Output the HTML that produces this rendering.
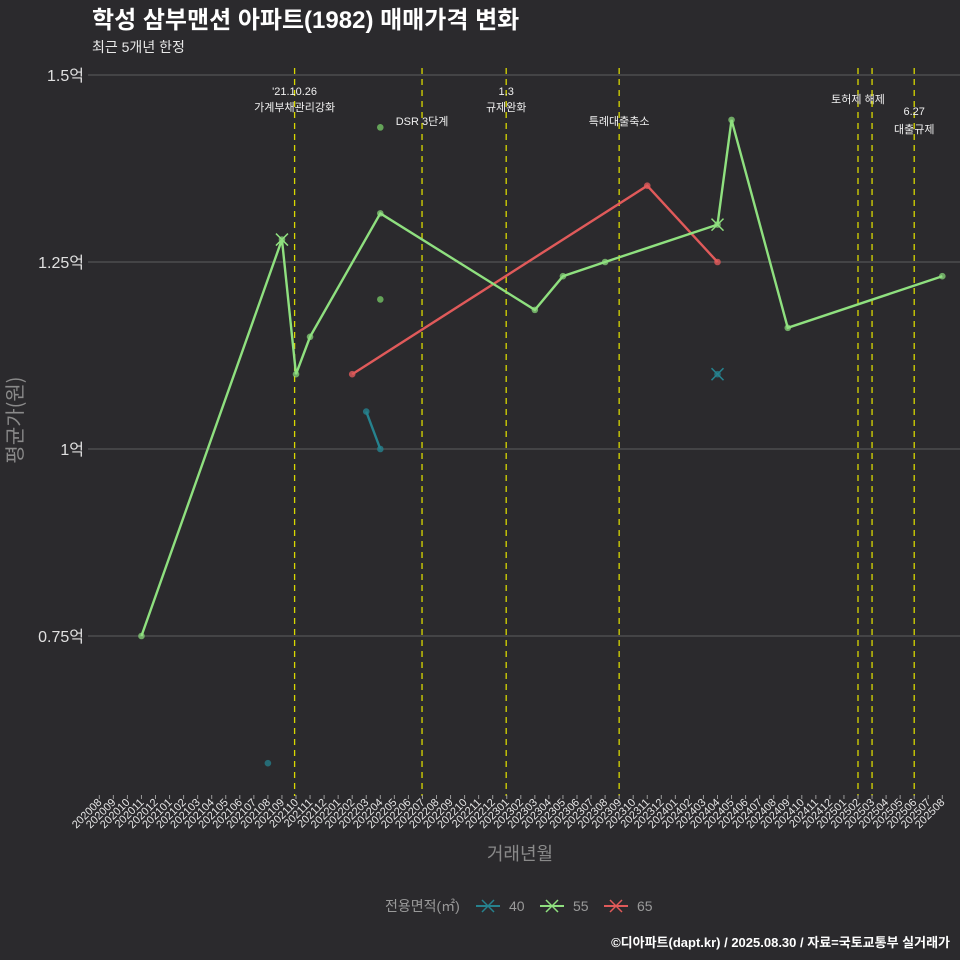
<!DOCTYPE html>
<html><head><meta charset="utf-8"><style>
html,body{margin:0;padding:0;background:#2b2a2d;}
svg{display:block;font-family:"Liberation Sans","Noto Sans CJK KR",sans-serif;}
</style></head><body>
<svg id="c" width="960" height="960" viewBox="0 0 960 960">
<rect width="960" height="960" fill="#2b2a2d"/>
<text x="92" y="28" font-size="24" font-weight="bold" fill="#ffffff">학성 삼부맨션 아파트(1982) 매매가격 변화</text>
<text x="92" y="52" font-size="14" fill="#e8e8e8">최근 5개년 한정</text>
<text transform="translate(22,420) rotate(-90)" text-anchor="middle" font-size="20" fill="#8a8a8a" font-family="Noto Sans CJK KR, sans-serif">평균가(원)</text>
<text x="520" y="860" text-anchor="middle" font-size="18" fill="#8a8a8a">거래년월</text>
<g id="grid"></g><g id="vlines"></g><g id="series"></g><g id="xaxis"></g>
<g>
<text x="385" y="911" font-size="14" fill="#9a9a9a">전용면적(㎡)</text>
<g><line x1="476" y1="906" x2="500" y2="906" stroke="#26828e" stroke-width="2"/><path d="M482 900l12 12M494 900l-12 12" stroke="#26828e" stroke-width="1.5"/><text x="509" y="911" font-size="14" fill="#9a9a9a">40</text></g>
<g><line x1="540" y1="906" x2="564" y2="906" stroke="#8fe07f" stroke-width="2"/><path d="M546 900l12 12M558 900l-12 12" stroke="#8fe07f" stroke-width="1.5"/><text x="573" y="911" font-size="14" fill="#9a9a9a">55</text></g>
<g><line x1="604" y1="906" x2="628" y2="906" stroke="#e05a5a" stroke-width="2"/><path d="M610 900l12 12M622 900l-12 12" stroke="#e05a5a" stroke-width="1.5"/><text x="637" y="911" font-size="14" fill="#9a9a9a">65</text></g>
</g>
<text x="950" y="947" text-anchor="end" font-size="13" font-weight="bold" fill="#ffffff">©디아파트(dapt.kr) / 2025.08.30 / 자료=국토교통부 실거래가</text>
</svg>
<script>
const yTicks=[0.75,1,1.25,1.5];
const yTickLabels=["0.75억","1억","1.25억","1.5억"];
const s55Months=[3,13,14,15,20,31,33,36,44,45,49,60];
const s55Values=[0.75,1.28,1.10,1.15,1.315,1.186,1.231,1.25,1.30,1.44,1.162,1.231];
const s55Cross=[false,true,false,false,false,false,false,false,true,false,false,false];
const s55ExtraMonths=[20,20];
const s55ExtraValues=[1.43,1.20];
const s65Months=[18,39,44];
const s65Values=[1.10,1.352,1.25];
const s40Months=[19,20];
const s40Values=[1.05,1.0];
const s40ExtraMonths=[12,44];
const s40ExtraValues=[0.58,1.10];
const s40ExtraCross=[false,true];
const eventMonths=[13.9,22.97,28.96,37,54,55,58];
const eventLabels=[["'21.10.26","가계부채관리강화"],["DSR 3단계"],["1.3","규제완화"],["특례대출축소"],["토허제 해제"],[],["6.27","대출규제"]];
const eventLabelY=[[91,107],[121],[91,107],[121],[99],[],[111,129]];

const NS="http://www.w3.org/2000/svg";
const X=i=>99.3+i*14.05;
const Y=v=>75+(1.5-v)*748;
function el(tag,attrs,parent){const e=document.createElementNS(NS,tag);for(const k in attrs)e.setAttribute(k,attrs[k]);parent.appendChild(e);return e;}
const grid=document.getElementById('grid'),vl=document.getElementById('vlines'),sr=document.getElementById('series'),xa=document.getElementById('xaxis');
yTicks.forEach((v,k)=>{
 const l=el('line',{x1:88,x2:960,y1:Y(v),y2:Y(v),stroke:'#5e5e5e','stroke-width':1},grid);
 
 
 const t=el('text',{x:84,y:Y(v)+6,'text-anchor':'end','font-size':16,fill:'#e0e0e0'},grid);
 t.textContent=yTickLabels[k];
 
 
});
for(let i=0;i<=60;i++){
 const yr=2020+Math.floor((7+i)/12),mo=((7+i)%12)+1;
 const lab=''+yr+(mo<10?'0':'')+mo;
 const tk=el('line',{x1:X(i),x2:X(i),y1:795,y2:799,stroke:'#9a9a9a'},xa);
 
 
 const t=el('text',{transform:`translate(${X(i)+3},${803}) rotate(-45)`,'text-anchor':'end','font-size':11,fill:'#e6e6e6'},xa);
 t.textContent=lab;
 
 
}
eventMonths.forEach((m,k)=>{
 const l=el('line',{x1:X(m),x2:X(m),y1:68,y2:796,stroke:'#d8d800','stroke-width':1.3,'stroke-dasharray':'6,5'},vl);
 
 
 eventLabels[k].forEach((s,j)=>{
  const t=el('text',{x:X(m),y:eventLabelY[k][j]+4,'text-anchor':'middle','font-size':11,fill:'#f0f0f0'},vl);
  t.textContent=s;
  
  
 });
});
function line(ms,vs,col,name){
 const p=el('polyline',{points:ms.map((m,k)=>X(m)+','+Y(vs[k])).join(' '),fill:'none',stroke:col,'stroke-width':2.4},sr);
 
 
}
function pts(ms,vs,col,cross,name,op){
 ms.forEach((m,k)=>{
  const c=el('circle',{cx:X(m),cy:Y(vs[k]),r:3.3,fill:col,opacity:op},sr);
  
  
  if(cross&&cross[k]){
   const x=X(m),y=Y(vs[k]);
   const cr=el('path',{d:`M${x-6} ${y-6}l12 12M${x+6} ${y-6}l-12 12`,stroke:col,'stroke-width':1.5},sr);
   
   
  }
 });
}
line(s40Months,s40Values,'#26828e','line-40');
pts(s40Months,s40Values,'#26828e',null,'point-40',0.8);
pts(s40ExtraMonths,s40ExtraValues,'#26828e',s40ExtraCross,'point-40-extra',0.75);
line(s65Months,s65Values,'#e05a5a','line-65');
pts(s65Months,s65Values,'#e05a5a',null,'point-65',0.8);
line(s55Months,s55Values,'#8fe07f','line-55');
pts(s55Months,s55Values,'#8fe07f',s55Cross,'point-55',0.7);
pts(s55ExtraMonths,s55ExtraValues,'#6fb860',null,'point-55-extra',0.85);
</script>
</body></html>
